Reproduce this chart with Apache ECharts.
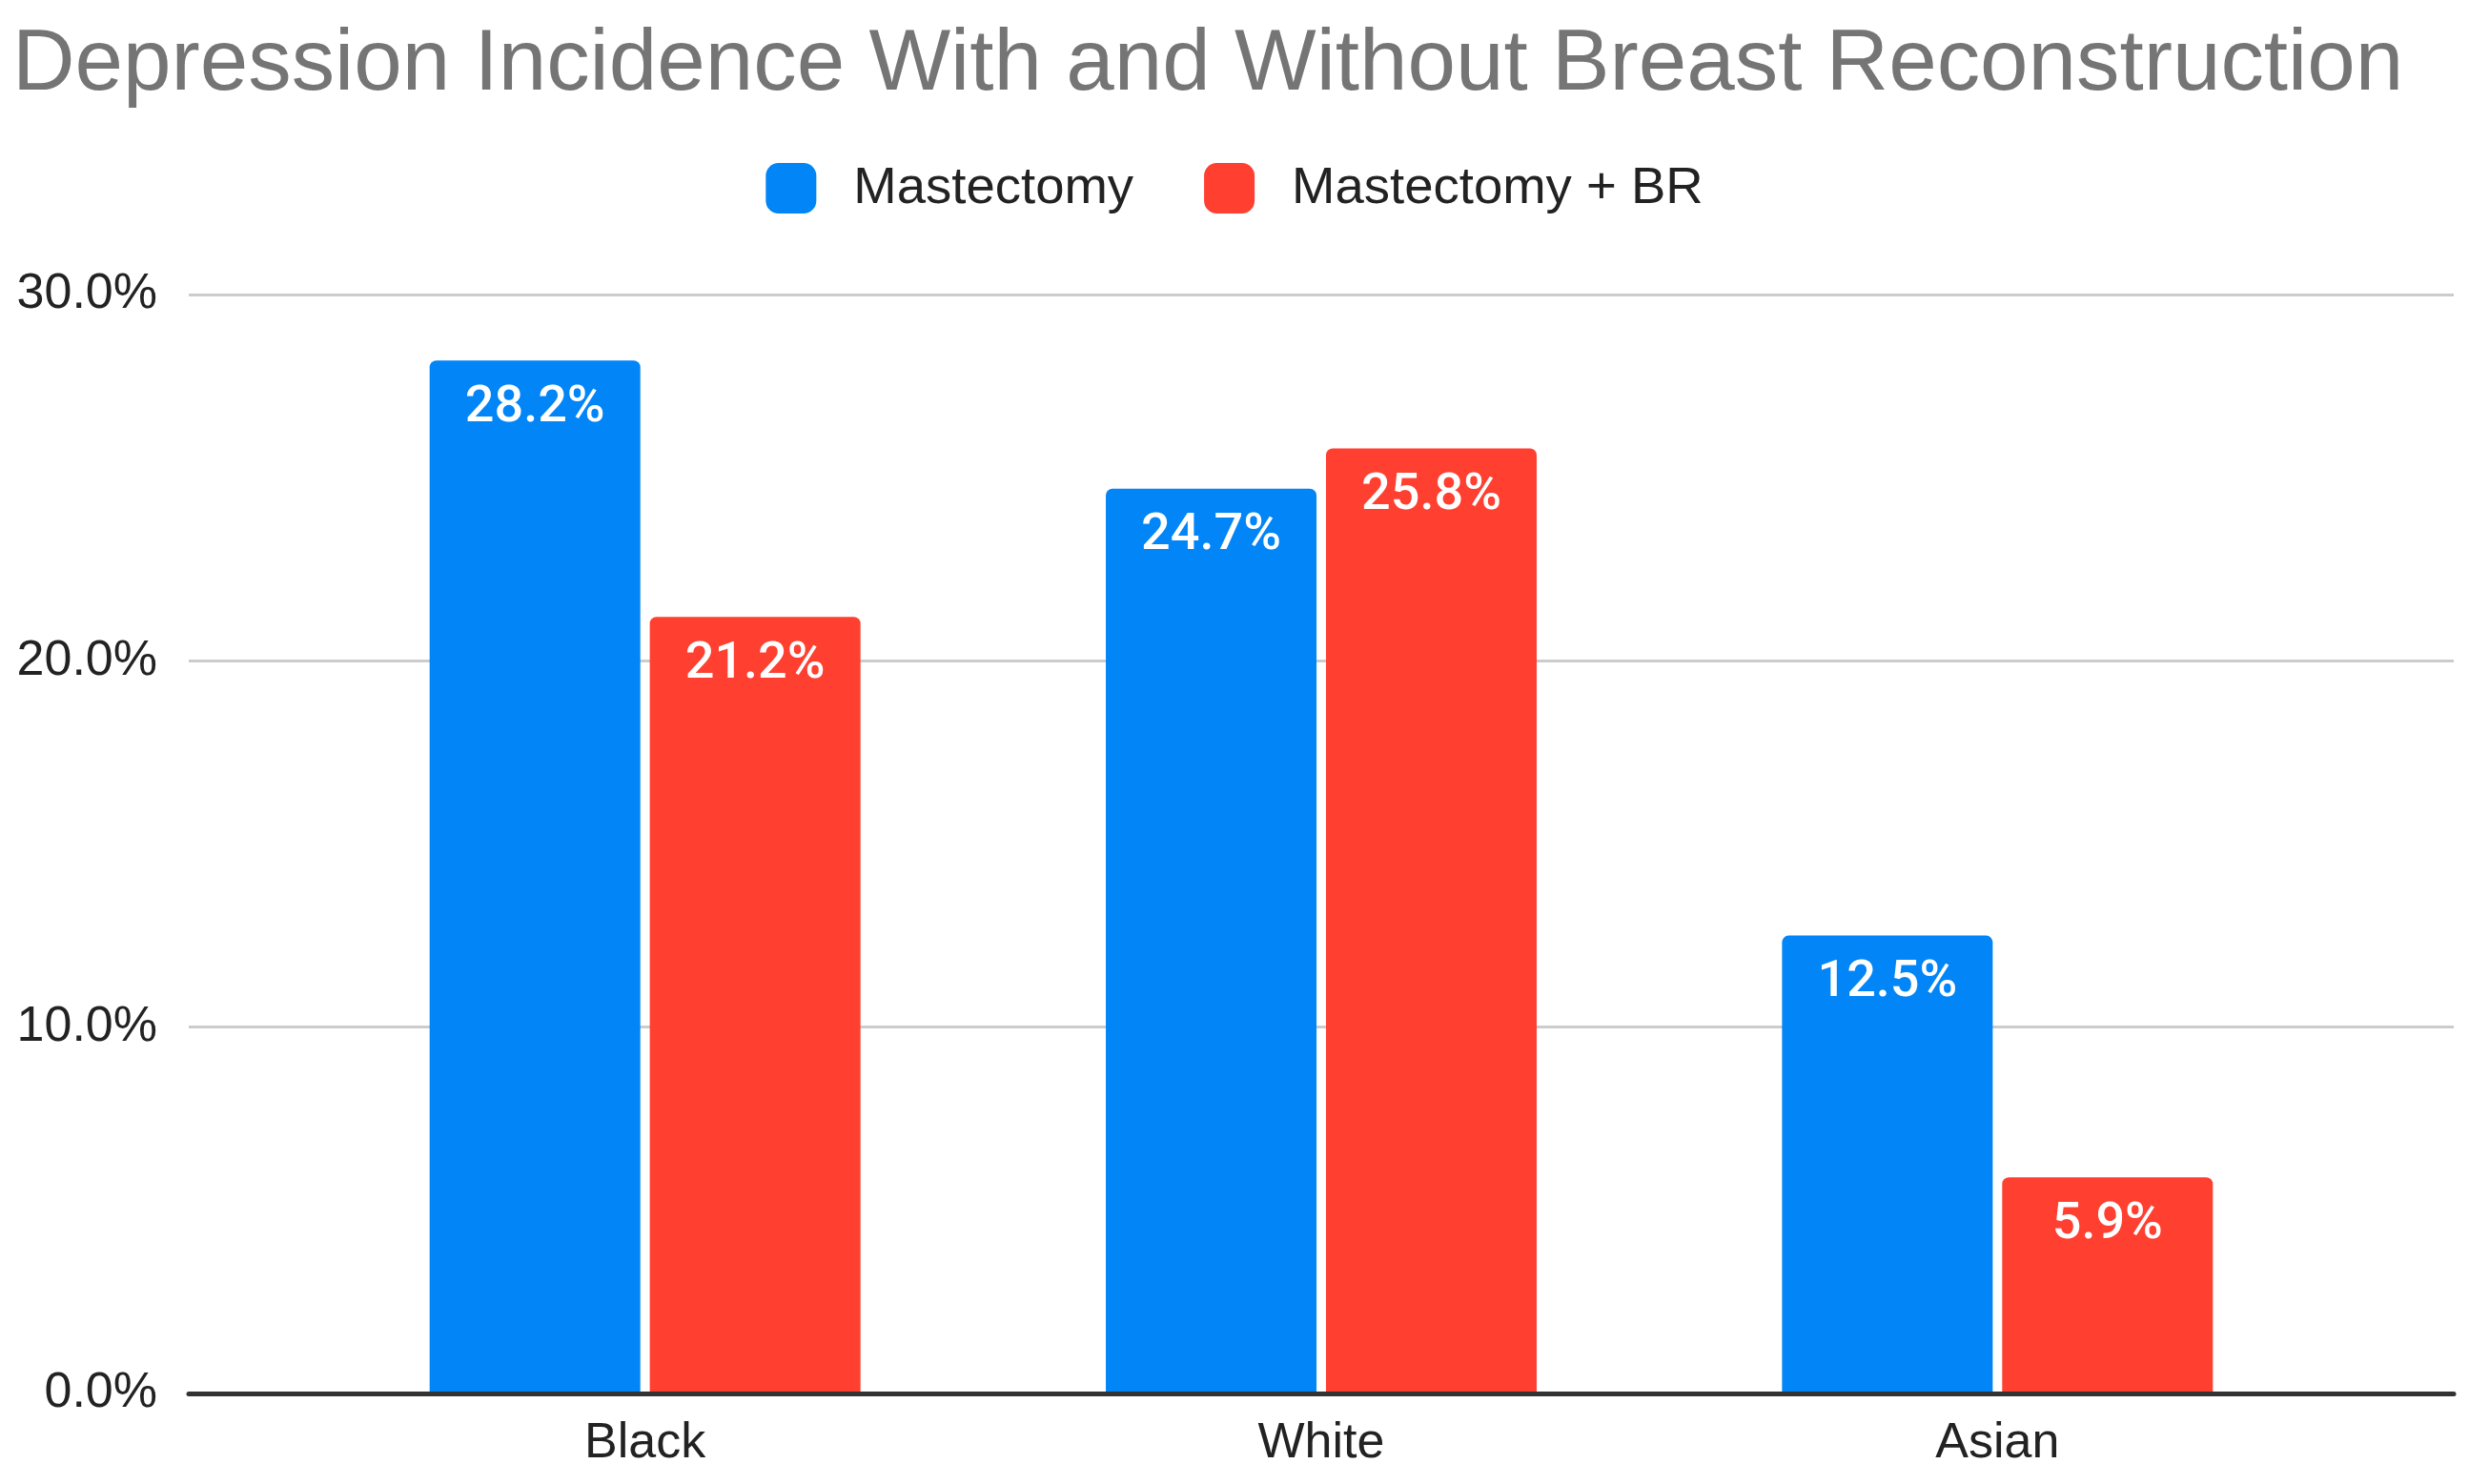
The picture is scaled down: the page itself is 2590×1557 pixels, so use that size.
<!DOCTYPE html>
<html>
<head>
<meta charset="utf-8">
<script src="https://cdn.jsdelivr.net/npm/echarts@6/dist/echarts.min.js"></script>
<style>
html,body{margin:0;padding:0;background:#fff;}
#chart{width:2590px;height:1557px;}
</style>
</head>
<body>
<div id="chart"></div>
<script>
const categories = ['Black', 'White', 'Asian'];
const mastectomy = [28.2, 24.7, 12.5];
const mastectomyBR = [21.2, 25.8, 5.9];
const yTicks = [0, 10, 20, 30];

const chart = echarts.init(document.getElementById('chart'));
const pct = v => Number(v).toFixed(1) + '%';
const labelCfg = {
  show: true, position: 'insideTop', distance: 23, color: '#fff',
  fontSize: 54, fontWeight: 500, fontFamily: 'Roboto', formatter: p => pct(p.value)
};
chart.setOption({
  backgroundColor: '#fff',
  animation: false,
  title: {
    text: 'Depression Incidence With and Without Breast Reconstruction',
    left: 8, top: 18,
    textStyle: { fontSize: 90.8, fontWeight: 'normal', color: '#757575', fontFamily: 'Liberation Sans' }
  },
  legend: {
    top: 165, left: 'center', icon: 'roundRect', itemWidth: 53, itemHeight: 53, itemGap: 74,
    textStyle: { fontSize: 54.5, color: '#222', fontFamily: 'Liberation Sans', padding: [0, 0, 0, 34] },
    data: ['Mastectomy', 'Mastectomy + BR']
  },
  grid: [
    { left: 198, right: 16, top: 309, bottom: 95 },
    { left: 322, right: 140, top: 309, bottom: 95 }
  ],
  xAxis: [
    { type: 'value', gridIndex: 0, min: 0, max: 1, z: 5,
      axisLine: { show: true, lineStyle: { color: '#333', width: 5 } },
      axisTick: { show: false }, axisLabel: { show: false }, splitLine: { show: false } },
    { type: 'category', gridIndex: 1, data: categories,
      axisLine: { show: false }, axisTick: { show: false }, splitLine: { show: false },
      axisLabel: { fontSize: 52, color: '#222', margin: 27, fontFamily: 'Liberation Sans' } }
  ],
  yAxis: [
    { type: 'value', gridIndex: 0, min: yTicks[0], max: yTicks[yTicks.length - 1], interval: 10,
      axisLine: { show: false }, axisTick: { show: false },
      axisLabel: { fontSize: 52, color: '#222', margin: 33, fontFamily: 'Liberation Sans', formatter: v => pct(v) },
      splitLine: { lineStyle: { color: '#cccccc', width: 3 } } },
    { type: 'value', gridIndex: 1, min: 0, max: 30, interval: 10, show: false, splitLine: { show: false } }
  ],
  series: [
    { name: 'Mastectomy', type: 'bar', xAxisIndex: 1, yAxisIndex: 1, data: mastectomy,
      barWidth: 221, barGap: '4.5%', itemStyle: { color: '#0285F7', borderRadius: [7, 7, 0, 0] }, label: labelCfg },
    { name: 'Mastectomy + BR', type: 'bar', xAxisIndex: 1, yAxisIndex: 1, data: mastectomyBR,
      barWidth: 221, itemStyle: { color: '#FF3F30', borderRadius: [7, 7, 0, 0] }, label: labelCfg }
  ]
});
</script>
</body>
</html>
